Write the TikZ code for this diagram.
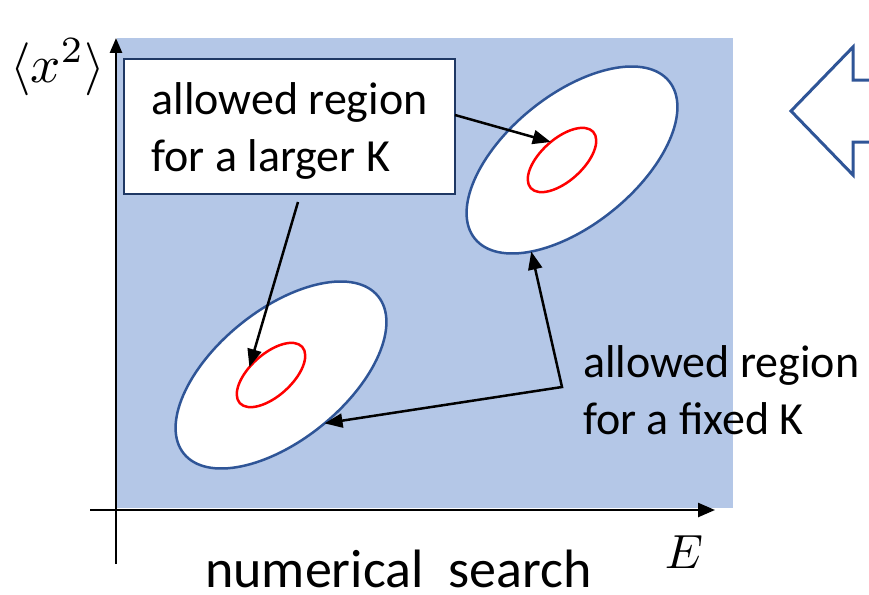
\documentclass[tikz,border=0pt]{standalone}
\usepackage{fontspec}
\setmainfont{Carlito}
\usetikzlibrary{shapes.geometric,arrows.meta}
\definecolor{bgblue}{HTML}{B4C7E7}
\definecolor{edgeblue}{HTML}{2F5597}
\definecolor{navy}{HTML}{1F3864}
\begin{document}
\begin{tikzpicture}[x=1pt,y=-1pt,
  ell/.style={ellipse, draw=edgeblue, line width=2.5pt, fill=white, rotate=39, inner sep=0pt, outer sep=0pt, minimum width=250pt, minimum height=130pt},
  redell/.style={ellipse, draw=red, line width=2.5pt, rotate=42, inner sep=0pt, outer sep=0pt, minimum width=84pt, minimum height=42pt},
  conn/.style={line width=2.5pt, -{Triangle[length=18pt,width=14pt]}},
  conntwo/.style={line width=2.5pt, {Triangle[length=18pt,width=14pt]}-{Triangle[length=18pt,width=14pt]}},
  axisline/.style={line width=2.5pt},
  lbl/.style={font=\fontsize{46}{57}\selectfont, align=left, inner sep=0pt},
  mathlbl/.style={font=\fontsize{10}{12}\selectfont, inner sep=0pt, anchor=base west}]
\useasboundingbox (0,0) rectangle (869,594);
\fill[bgblue] (117,38) rectangle (733,508);
% ellipses
\node[ell] (e1) at (572,160) {};
\node[redell] (r1) at (562,160) {};
\node[ell] (e2) at (281,375) {};
\node[redell] (r2) at (271,375) {};
% box
\node[lbl, draw=navy, line width=2pt, fill=white, minimum width=331pt, minimum height=135pt] (box) at (289.5,126.5) {\rule{0pt}{40pt}allowed region\\for a larger K};
% connectors
\coordinate (s1) at (455,115);
\coordinate (s2) at (298,202);
\coordinate (c) at (562,387);
\draw[conn] (s1) -- (r1.80);
\draw[conn] (s2) -- (r2.118);
\draw[conntwo, line join=miter] (e1.207) -- (c) -- (e2.273);
% axes
\draw[axisline, -{Triangle[length=15pt,width=12pt]}] (116,564) -- (116,38);
\draw[axisline, -{Triangle[length=17pt,width=14pt]}] (90,510) -- (715,510);
% labels
\node[lbl, anchor=north west] (fixedlbl) at (583,345) {allowed region\\for a fixed K};
\node[font=\fontsize{54}{65}\selectfont, inner sep=0pt, anchor=base west] (xlbl) at (205,587) {numerical\ \ search};
\node[mathlbl, scale=4.8] (elbl) at (664,568) {$E$};
\node[mathlbl, scale=5.3] (ylbl) at (9,82) {$\langle x^2\rangle$};
% big outline arrow at right edge
\begin{scope}
\clip (0,0) rectangle (869,594);
\draw[edgeblue, line width=3pt, line join=miter] (791,111) -- (853,47) -- (853,80) -- (885,80) -- (885,142) -- (853,142) -- (853,175) -- cycle;
\end{scope}
\end{tikzpicture}
\end{document}
